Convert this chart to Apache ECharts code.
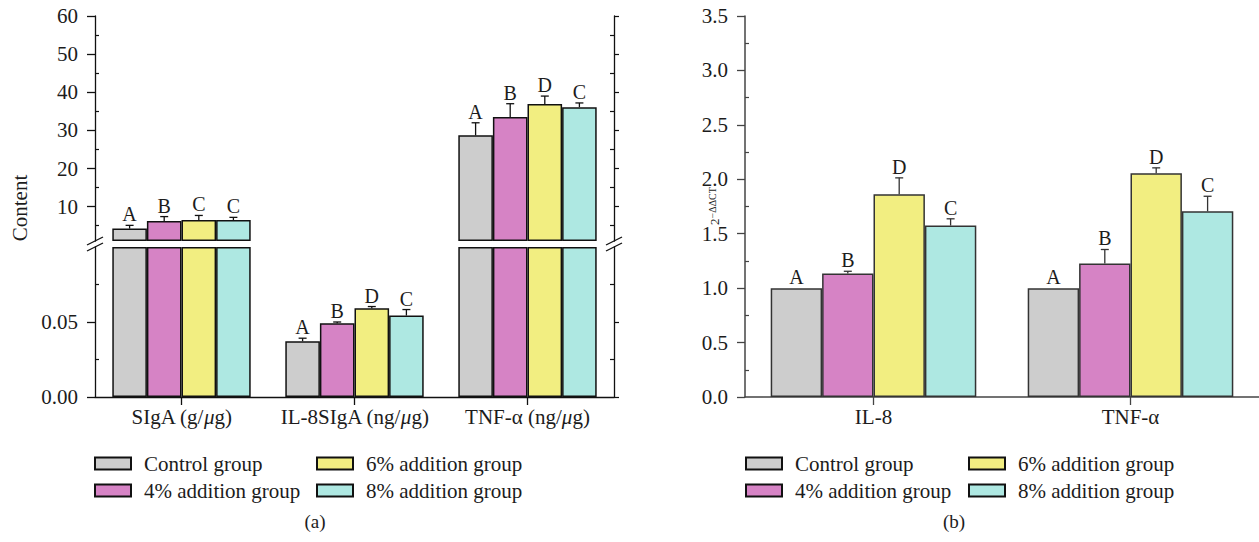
<!DOCTYPE html>
<html><head><meta charset="utf-8">
<script src="https://cdn.jsdelivr.net/npm/echarts@6/dist/echarts.min.js"></script>
<style>html,body{margin:0;padding:0;background:#fff}#c{width:1259px;height:542px}</style>
</head><body><div id="c"></div>
<script>
// ---------- data ----------
const groups = ['Control group', '4% addition group', '6% addition group', '8% addition group'];
const colors = ['#cdcdcd', '#d683c5', '#f2ee81', '#aee8e2'];

// chart (a)
const catsA = ['SIgA (g/μg)', 'IL-8SIgA (ng/μg)', 'TNF-α (ng/μg)'];
const aControl = [4.25, 0.0372, 28.7];
const aControlErr = [0.85, 0.0020, 3.3];
const a4 = [6.25, 0.0491, 33.5];
const a4Err = [1.15, 0.0009, 3.5];
const a6 = [6.5, 0.0592, 36.9];
const a6Err = [1.2, 0.0011, 2.1];
const a8 = [6.5, 0.0543, 36.1];
const a8Err = [0.7, 0.0040, 1.1];
const aLetters = [['A', 'A', 'A'], ['B', 'B', 'B'], ['C', 'D', 'D'], ['C', 'C', 'C']];
const aUpperTicks = [10, 20, 30, 40, 50, 60];
const aUpperMinor = [5, 15, 25, 35, 45, 55];
const aLowerTicks = [0, 0.05];
const aLowerMinor = [0.025, 0.075];
const aUpperMin = 1, aUpperMax = 60, aLowerMax = 0.1;

// chart (b)
const catsB = ['IL-8', 'TNF-α'];
const bControl = [1.0, 1.0];
const bControlErr = [0, 0];
const b4 = [1.135, 1.227];
const b4Err = [0.02, 0.128];
const b6 = [1.862, 2.055];
const b6Err = [0.151, 0.05];
const b8 = [1.575, 1.706];
const b8Err = [0.062, 0.138];
const bLetters = [['A', 'A'], ['B', 'B'], ['D', 'D'], ['C', 'C']];
const bMinor = [0.25, 0.75, 1.25, 1.75, 2.25, 2.75, 3.25];

// ---------- build ----------
const FONT = '"Liberation Serif", "Times New Roman", serif';
const TXT = '#1c1c1c';
const aMeans = [aControl, a4, a6, a8];
const aErrs = [aControlErr, a4Err, a6Err, a8Err];
const bMeans = [bControl, b4, b6, b8];
const bErrs = [bControlErr, b4Err, b6Err, b8Err];

function errSeries(xi, yi, means, errs, letters, filter, color) {
  const data = [], labs = [];
  means.forEach((arr, g) => arr.forEach((v, c) => {
    if (filter(v)) { data.push([c, v, errs[g][c], g]); labs.push(letters[g][c]); }
  }));
  return {
    type: 'custom', xAxisIndex: xi, yAxisIndex: yi, data, silent: true, z: 5,
    clip: false,
    renderItem(params, api) {
      const cat = api.value(0), m = api.value(1), e = api.value(2), g = api.value(3);
      const bw = api.size([1, 0])[0] * 0.8 / 4;
      const p0 = api.coord([cat, m]);
      const p1 = api.coord([cat, m + e]);
      const x = p0[0] + (g - 1.5) * bw;
      const ch = [];
      if (e > 0) {
        ch.push({ type: 'line', shape: { x1: x, y1: p0[1], x2: x, y2: p1[1] }, style: { stroke: color, lineWidth: 1.3 } });
        ch.push({ type: 'line', shape: { x1: x - 4, y1: p1[1], x2: x + 4, y2: p1[1] }, style: { stroke: color, lineWidth: 1.3 } });
      }
      ch.push({ type: 'text', style: { text: labs[params.dataIndex], x: x, y: p1[1] - 1, align: 'center', verticalAlign: 'bottom', font: '20px ' + FONT, fill: TXT } });
      return { type: 'group', children: ch };
    }
  };
}

const series = [];
groups.forEach((name, g) => {
  const base = { type: 'bar', name, barGap: '0%', barCategoryGap: '20%', itemStyle: { color: colors[g], borderColor: '#111', borderWidth: 1.5 } };
  series.push(Object.assign({}, base, { xAxisIndex: 0, yAxisIndex: 0, data: aMeans[g].map(v => v > aLowerMax ? v : null) }));
  series.push(Object.assign({}, base, { xAxisIndex: 1, yAxisIndex: 4, data: aMeans[g].map(v => Math.min(v, aLowerMax)) }));
  series.push(Object.assign({}, base, { xAxisIndex: 2, yAxisIndex: 8, itemStyle: { color: colors[g], borderColor: '#333', borderWidth: 1.5 }, data: bMeans[g] }));
});
series.push(errSeries(0, 0, aMeans, aErrs, aLetters, v => v > aLowerMax, '#111'));
series.push(errSeries(1, 4, aMeans, aErrs, aLetters, v => v <= aLowerMax, '#111'));
series.push(errSeries(2, 8, bMeans, bErrs, bLetters, v => true, '#333'));

const lblStyle = { fontFamily: FONT, fontSize: 21, color: TXT };
function yAx(grid, pos, min, max, ticks, opts) {
  return Object.assign({
    type: 'value', gridIndex: grid, position: pos, min, max,
    axisLine: { show: true, lineStyle: { color: '#111', width: 1.3 } },
    axisTick: { show: true, length: 8, inside: false, customValues: ticks, lineStyle: { color: '#111', width: 1.3 } },
    axisLabel: { show: false },
    splitLine: { show: false }
  }, opts || {});
}
function minorAx(grid, pos, min, max, vals, color) {
  return {
    type: 'value', gridIndex: grid, position: pos, min, max,
    axisLine: { show: false },
    axisTick: { show: true, length: 4, inside: true, customValues: vals, lineStyle: { color: color || '#111', width: 1.2 } },
    axisLabel: { show: false }, splitLine: { show: false }
  };
}

const yAxis = [
  yAx(0, 'left', aUpperMin, aUpperMax, aUpperTicks, { startValue: aUpperMin,
    axisLabel: Object.assign({ show: true, margin: 17, customValues: aUpperTicks, formatter: v => String(v) }, lblStyle) }),
  yAx(0, 'right', aUpperMin, aUpperMax, aUpperTicks, { axisTick: { show: true, length: 5, inside: false, customValues: aUpperTicks, lineStyle: { color: '#111', width: 1.2 } } }),
  minorAx(0, 'left', aUpperMin, aUpperMax, aUpperMinor),
  minorAx(0, 'right', aUpperMin, aUpperMax, aUpperMinor),
  yAx(1, 'left', 0, aLowerMax, aLowerTicks, {
    axisLabel: Object.assign({ show: true, margin: 17, customValues: aLowerTicks, formatter: v => v.toFixed(2) }, lblStyle) }),
  yAx(1, 'right', 0, aLowerMax, aLowerTicks, { axisTick: { show: true, length: 5, inside: false, customValues: aLowerTicks, lineStyle: { color: '#111', width: 1.2 } } }),
  minorAx(1, 'left', 0, aLowerMax, aLowerMinor),
  minorAx(1, 'right', 0, aLowerMax, aLowerMinor),
  {
    type: 'value', gridIndex: 2, position: 'left', min: 0, max: 3.5, interval: 0.5,
    axisLine: { show: true, lineStyle: { color: '#444', width: 1.5 } },
    axisTick: { show: true, length: 8, inside: false, lineStyle: { color: '#444', width: 1.3 } },
    axisLabel: Object.assign({ margin: 17, formatter: v => v.toFixed(1) }, lblStyle),
    splitLine: { show: false }
  },
  minorAx(2, 'left', 0, 3.5, bMinor, '#444')
];

const catLabel = (v) => v.replace('μ', '{i|μ}');
const xAxis = [
  { type: 'category', gridIndex: 0, data: catsA, show: false },
  { type: 'category', gridIndex: 1, data: catsA,
    axisLine: { show: true, lineStyle: { color: '#111', width: 1.3 } },
    axisTick: { show: true, alignWithLabel: true, length: 8, lineStyle: { color: '#111', width: 1.3 } },
    axisLabel: Object.assign({ interval: 0, hideOverlap: false, margin: 9, formatter: catLabel, rich: { i: { fontFamily: FONT, fontSize: 21, fontStyle: 'italic', color: TXT } } }, lblStyle) },
  { type: 'category', gridIndex: 2, data: catsB,
    axisLine: { show: true, lineStyle: { color: '#444', width: 1.5 } },
    axisTick: { show: true, alignWithLabel: true, length: 8, lineStyle: { color: '#444', width: 1.3 } },
    axisLabel: Object.assign({ interval: 0, margin: 9 }, lblStyle) }
];

function leg(left, names) {
  return { orient: 'vertical', left, top: 453, padding: 0, itemGap: 6, itemWidth: 36, itemHeight: 12,
    icon: 'rect', selectedMode: false, data: names,
    textStyle: { fontFamily: FONT, fontSize: 21, color: TXT, padding: [0, 0, 0, 8] } };
}

function breakMark(x, y) {
  return { type: 'group', x, y, children: [
    { type: 'polygon', shape: { points: [[-8, 4], [8, -4], [8, 2], [-8, 10]] }, style: { fill: '#fff' } },
    { type: 'line', shape: { x1: -8, y1: 4, x2: 8, y2: -4 }, style: { stroke: '#111', lineWidth: 1.3 } },
    { type: 'line', shape: { x1: -8, y1: 10, x2: 8, y2: 2 }, style: { stroke: '#111', lineWidth: 1.3 } }
  ] };
}

const option = {
  animation: false,
  backgroundColor: '#fff',
  grid: [
    { left: 95, width: 519, top: 16, height: 225 },
    { left: 95, width: 519, top: 247, height: 150 },
    { left: 745, width: 514, top: 16, height: 381 }
  ],
  xAxis, yAxis, series,
  legend: [
    leg(94, [groups[0], groups[1]]),
    leg(316, [groups[2], groups[3]]),
    leg(745, [groups[0], groups[1]]),
    leg(968, [groups[2], groups[3]])
  ],
  graphic: [
    breakMark(95, 241),
    breakMark(614, 241),
    { type: 'text', x: 20, y: 208, rotation: Math.PI / 2, style: { text: 'Content', font: '21px ' + FONT, fill: TXT, align: 'center', verticalAlign: 'middle' } },
    { type: 'text', x: 714, y: 206, rotation: Math.PI / 2, style: { text: '2{s|−ΔΔCT}', rich: { s: { fontSize: 10, fontFamily: FONT, fill: TXT, verticalAlign: 'top' } }, font: '13px ' + FONT, fill: TXT, align: 'center', verticalAlign: 'middle' } },
    { type: 'text', x: 315, y: 521, style: { text: '(a)', font: '19px ' + FONT, fill: TXT, align: 'center', verticalAlign: 'middle' } },
    { type: 'text', x: 954, y: 521, style: { text: '(b)', font: '19px ' + FONT, fill: TXT, align: 'center', verticalAlign: 'middle' } }
  ]
};

const chart = echarts.init(document.getElementById('c'), null, { renderer: 'svg' });
chart.setOption(option);
</script></body></html>
